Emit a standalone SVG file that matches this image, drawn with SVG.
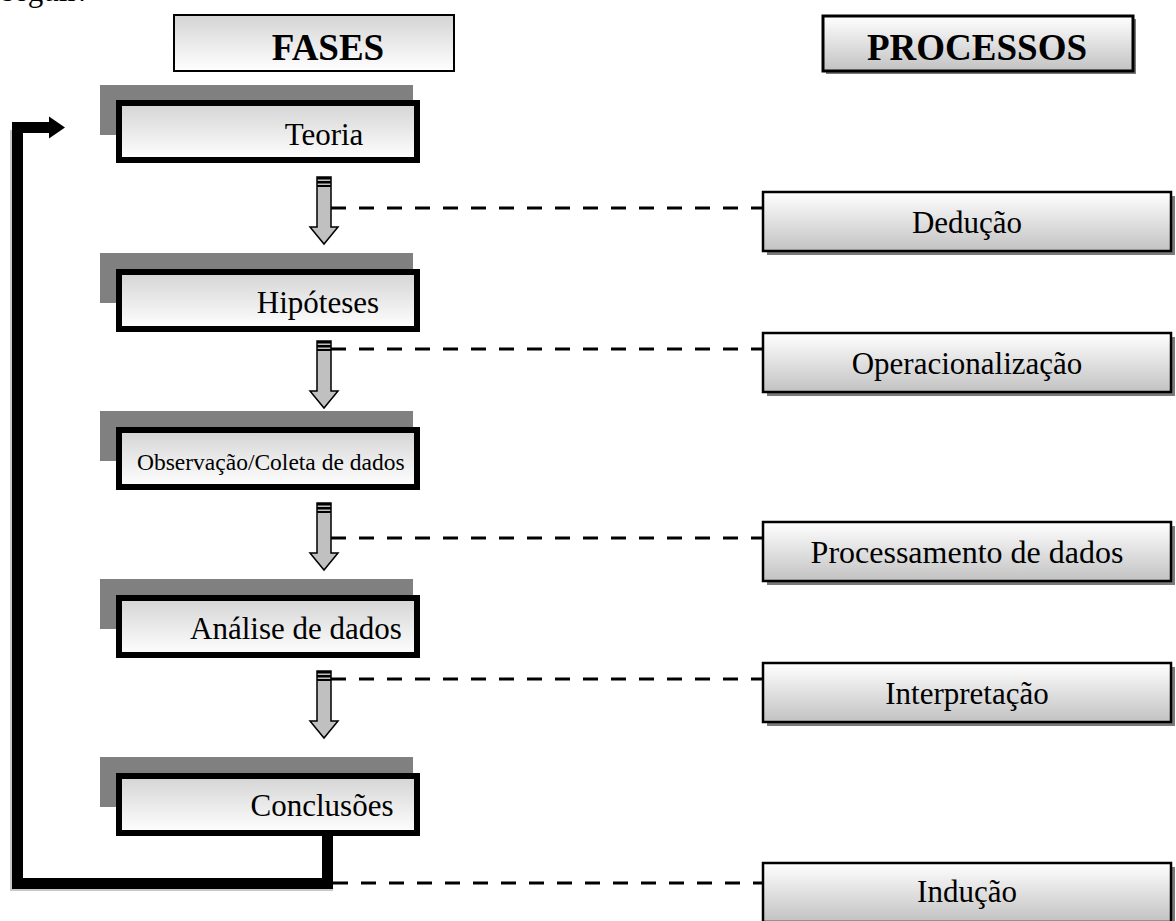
<svg xmlns="http://www.w3.org/2000/svg" xmlns:xlink="http://www.w3.org/1999/xlink" width="1176" height="921" viewBox="0 0 1176 921">
<style>
.t{font-family:"Liberation Serif","Times New Roman",serif;fill:#000}
.ph{font-size:31px;text-anchor:middle}
.pr{font-size:31px;text-anchor:middle}
.hd{font-weight:bold;text-anchor:middle;font-size:37px}
.shadow{fill:#808080}
.pbox{fill:url(#gPhase);stroke:#000;stroke-width:6}
.qbox{fill:url(#gProc);stroke:#000;stroke-width:2.5}
.qsh{fill:#7a7a7a}
.dash{stroke:#000;stroke-width:3;stroke-dasharray:15 13;fill:none}
.loop{stroke:#000;stroke-width:11;fill:none;stroke-linejoin:miter}
.loopsh{stroke:#c8c8c8;stroke-width:2;fill:none}
</style>
<defs>
<linearGradient id="gPhase" x1="0" y1="0" x2="0" y2="1">
<stop offset="0" stop-color="#d4d4d4"/><stop offset="1" stop-color="#ffffff"/>
</linearGradient>
<linearGradient id="gProc" x1="0" y1="0" x2="0" y2="1">
<stop offset="0" stop-color="#ffffff"/><stop offset="1" stop-color="#c2c2c2"/>
</linearGradient>
<g id="darrow">
<path d="M-7,0 H7 V50 H14 L0,67 L-14,50 H-7 Z" fill="#c0c0c0" stroke="#000" stroke-width="1.5"/>
<rect x="-7" y="0" width="14" height="2.5" fill="#000"/>
<rect x="-7" y="4" width="14" height="2.5" fill="#000"/>
<rect x="-7" y="8" width="14" height="2" fill="#000"/>
</g>
</defs>

<text class="t" x="2" y="1" style="font-size:31px">seguir:</text>

<g id="hdr-fases">
<rect x="174" y="15" width="280" height="56" fill="url(#gPhase)" stroke="#000" stroke-width="2"/>
<text class="t hd" x="328" y="60">FASES</text>
</g>
<g id="hdr-processos">
<rect x="826" y="19" width="310" height="55" class="qsh"/>
<rect x="823" y="16" width="310" height="55" fill="url(#gProc)" stroke="#000" stroke-width="3"/>
<text class="t hd" x="977" y="60">PROCESSOS</text>
</g>

<g id="connectors">
<use xlink:href="#darrow" x="324" y="177"/>
<use xlink:href="#darrow" x="324" y="341"/>
<use xlink:href="#darrow" x="324" y="503"/>
<use xlink:href="#darrow" x="324" y="671"/>
<line class="dash" x1="331" y1="208" x2="762" y2="208"/>
<line class="dash" x1="331" y1="349" x2="762" y2="349"/>
<line class="dash" x1="331" y1="538" x2="762" y2="538"/>
<line class="dash" x1="331" y1="679" x2="762" y2="679"/>
<line class="dash" x1="333" y1="883" x2="762" y2="883"/>
<path class="loopsh" d="M11,130 V890 H333"/>
<path class="loop" d="M327.5,835 V883.5 H17.5 V127.5 H50"/>
<polygon points="49,116.5 65,127.5 49,138.5" fill="#000"/>
</g>

<g id="fase-teoria">
<rect class="shadow" x="100" y="85" width="313" height="50"/>
<rect class="pbox" x="119" y="103" width="298" height="57"/>
<text class="t ph" x="324" y="145">Teoria</text>
</g>
<g id="fase-hipoteses">
<rect class="shadow" x="100" y="253" width="313" height="50"/>
<rect class="pbox" x="119" y="272" width="298" height="57"/>
<text class="t ph" x="318" y="313">Hipóteses</text>
</g>
<g id="fase-observacao">
<rect class="shadow" x="100" y="411" width="313" height="50"/>
<rect class="pbox" x="119" y="430" width="298" height="57"/>
<text class="t" x="137" y="470" style="font-size:23.5px">Observação/Coleta de dados</text>
</g>
<g id="fase-analise">
<rect class="shadow" x="100" y="579" width="313" height="50"/>
<rect class="pbox" x="119" y="598" width="298" height="57"/>
<text class="t ph" x="296" y="639">Análise de dados</text>
</g>
<g id="fase-conclusoes">
<rect class="shadow" x="100" y="757" width="313" height="50"/>
<rect class="pbox" x="119" y="776" width="298" height="57"/>
<text class="t ph" x="322" y="816">Conclusões</text>
</g>

<g id="proc-deducao">
<rect class="qsh" x="767" y="196" width="408" height="59"/>
<rect class="qbox" x="763" y="192" width="408" height="59"/>
<text class="t pr" x="967" y="233">Dedução</text>
</g>
<g id="proc-operacionalizacao">
<rect class="qsh" x="767" y="337" width="408" height="59"/>
<rect class="qbox" x="763" y="333" width="408" height="59"/>
<text class="t pr" x="967" y="374">Operacionalização</text>
</g>
<g id="proc-processamento">
<rect class="qsh" x="767" y="526" width="408" height="59"/>
<rect class="qbox" x="763" y="522" width="408" height="59"/>
<text class="t pr" x="967" y="563" style="font-size:32px">Processamento de dados</text>
</g>
<g id="proc-interpretacao">
<rect class="qsh" x="767" y="667" width="408" height="59"/>
<rect class="qbox" x="763" y="663" width="408" height="59"/>
<text class="t pr" x="967" y="704">Interpretação</text>
</g>
<g id="proc-inducao">
<rect class="qsh" x="767" y="867" width="408" height="59"/>
<rect class="qbox" x="763" y="863" width="408" height="59"/>
<text class="t pr" x="967" y="902">Indução</text>
</g>
</svg>
